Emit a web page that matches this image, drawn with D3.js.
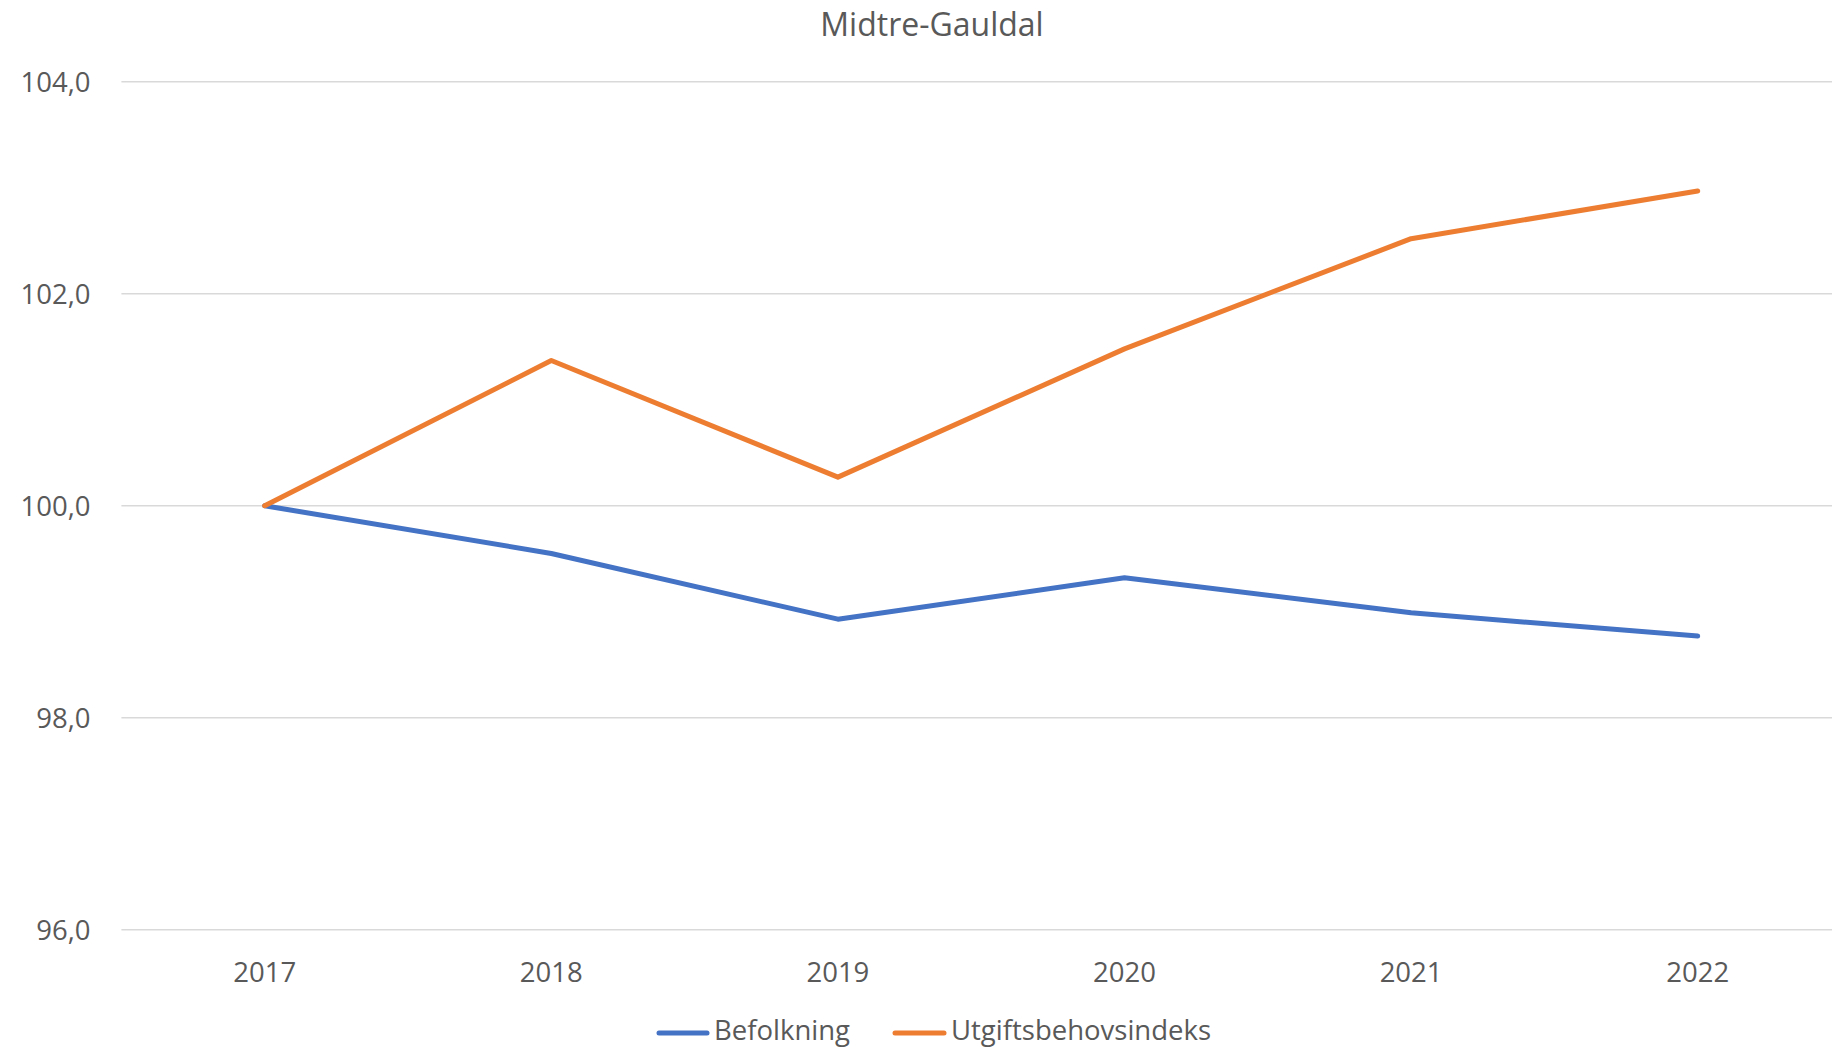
<!DOCTYPE html>
<html>
<head>
<meta charset="utf-8">
<script src="https://cdn.jsdelivr.net/npm/d3@7"></script>
<style>
  html, body { margin: 0; padding: 0; background: #fff; }
  svg { display: block; }
  text { font-family: "Open Sans", sans-serif; fill: #595959; }
</style>
</head>
<body>
<svg id="chart" width="1832" height="1048"></svg>
<script>
const title = "Midtre-Gauldal";
const years = ["2017", "2018", "2019", "2020", "2021", "2022"];
const befolkning = [100.0, 99.55, 98.93, 99.32, 98.99, 98.77];
const utgiftsbehovsindeks = [100.0, 101.37, 100.27, 101.48, 102.52, 102.97];
const yTicks = [96, 98, 100, 102, 104];
const seriesNames = ["Befolkning", "Utgiftsbehovsindeks"];
const seriesColors = ["#4472C4", "#ED7D31"];

const svg = d3.select("#chart");
const W = 1832, H = 1048;
const plotLeft = 121.4, plotRight = 1841;
const yTop = 81.8, yBottom = 929.7;

const x = d3.scaleBand().domain(years).range([plotLeft, plotRight]).padding(0);
const cx = d => x(d) + x.bandwidth() / 2;
const y = d3.scaleLinear().domain([96, 104]).range([yBottom, yTop]);

// gridlines
svg.append("g").selectAll("line").data(yTicks).join("line")
  .attr("x1", plotLeft).attr("x2", W)
  .attr("y1", d => y(d)).attr("y2", d => y(d))
  .attr("stroke", "#D9D9D9").attr("stroke-width", 1.5);

// y axis labels
const fmt = v => d3.format(".1f")(v).replace(".", ",");
svg.append("g").selectAll("text").data(yTicks).join("text")
  .attr("x", 90.5).attr("y", d => y(d) + 9.8)
  .attr("text-anchor", "end")
  .style("font-size", "27.5px")
  .text(d => fmt(d));

// x axis labels
svg.append("g").selectAll("text").data(years).join("text")
  .attr("x", d => cx(d)).attr("y", 982)
  .attr("text-anchor", "middle")
  .style("font-size", "27.5px")
  .text(d => d);

// title
svg.append("text")
  .attr("x", 932).attr("y", 35.5)
  .attr("text-anchor", "middle")
  .style("font-size", "32px")
  .text(title);

// lines
const line = d3.line().x((d, i) => cx(years[i])).y(d => y(d));
const allSeries = [befolkning, utgiftsbehovsindeks];
allSeries.forEach((s, k) => {
  svg.append("path")
    .datum(s)
    .attr("d", line)
    .attr("fill", "none")
    .attr("stroke", seriesColors[k])
    .attr("stroke-width", 5)
    .attr("stroke-linejoin", "round")
    .attr("stroke-linecap", "round");
});

// legend
const legendItems = [
  { name: seriesNames[0], color: seriesColors[0], x1: 659, x2: 707, tx: 714 },
  { name: seriesNames[1], color: seriesColors[1], x1: 895, x2: 944, tx: 951 }
];
const lg = svg.append("g");
legendItems.forEach(it => {
  lg.append("line")
    .attr("x1", it.x1).attr("x2", it.x2)
    .attr("y1", 1033).attr("y2", 1033)
    .attr("stroke", it.color).attr("stroke-width", 5)
    .attr("stroke-linecap", "round");
  lg.append("text")
    .attr("x", it.tx).attr("y", 1040)
    .style("font-size", "27.5px")
    .text(it.name);
});
</script>
</body>
</html>
